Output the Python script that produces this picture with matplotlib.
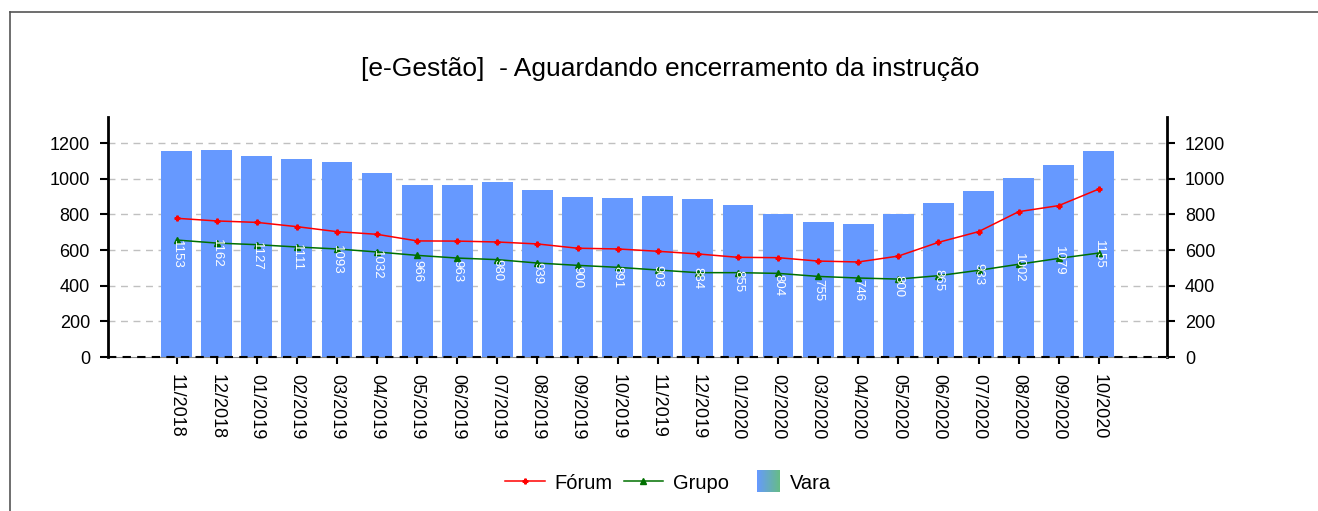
import matplotlib
matplotlib.use("Agg")
import matplotlib.pyplot as plt
import numpy as np
from matplotlib.patches import Rectangle
from matplotlib.legend_handler import HandlerBase
from matplotlib.lines import Line2D

plt.rcParams['font.family'] = ['Liberation Sans', 'DejaVu Sans']

months = ["11/2018", "12/2018", "01/2019", "02/2019", "03/2019", "04/2019", "05/2019",
          "06/2019", "07/2019", "08/2019", "09/2019", "10/2019", "11/2019", "12/2019",
          "01/2020", "02/2020", "03/2020", "04/2020", "05/2020", "06/2020", "07/2020",
          "08/2020", "09/2020", "10/2020"]
vara = [1153, 1162, 1127, 1111, 1093, 1032, 966, 963, 980, 939, 900, 891, 903, 884,
        855, 804, 755, 746, 800, 865, 933, 1002, 1079, 1155]
forum = [778, 763, 755, 731, 703, 688, 651, 650, 645, 634, 610, 606, 593, 578,
         559, 557, 538, 533, 566, 643, 703, 815, 849, 942]
grupo = [656, 639, 630, 617, 606, 589, 570, 555, 546, 527, 514, 503, 488, 473,
         473, 469, 452, 443, 437, 456, 486, 520, 553, 583]
yticks = [0, 200, 400, 600, 800, 1000, 1200]

W, H = 1318, 511
fig = plt.figure(figsize=(W / 100, H / 100), dpi=100)
ax = fig.add_axes([108 / W, 1 - 357 / H, (1167 - 108) / W, (357 - 117) / H])

x = np.arange(len(months))
bar_color = "#6699ff"
ax.bar(x, vara, width=0.77, color=bar_color, zorder=2)
for xi, v in zip(x, vara):
    ax.text(xi, v / 2, str(v), rotation=270, ha="center", va="center",
            color="white", fontsize=9.5, zorder=5)

ax.plot(x, forum, color="#ff0000", lw=1.1, marker="P", ms=3.5, zorder=4)
ax.plot(x, grupo, color="#007000", lw=1.1, marker="^", ms=4, zorder=4)

ax.set_xlim(-1.71, 24.7)
ax.set_ylim(0, 1346)
ax.set_yticks(yticks)
ax.set_xticks(x)
ax.set_xticklabels(months, rotation=270, fontsize=13)
ax.tick_params(axis="y", labelsize=13, right=True, labelright=True,
               direction="out", length=6, width=1.5, pad=7)
ax.tick_params(axis="x", direction="out", length=5, width=1.5, pad=7)
for t in yticks[1:]:
    ax.axhline(t, color="#c0c0c0", lw=1, ls=(0, (5, 4)), zorder=1)
ax.axhline(0, color="black", lw=1.5, ls=(0, (4, 3)), zorder=3, clip_on=False)
for s in ["left", "right"]:
    ax.spines[s].set_linewidth(2)
ax.spines["top"].set_visible(False)
ax.spines["bottom"].set_color("#888888")

fig.text(670 / W, 1 - 69 / H, "[e-Gestão]  - Aguardando encerramento da instrução",
         ha="center", va="center", fontsize=19)

# border
fig.add_artist(Line2D([10 / W, 10 / W], [0, 1 - 12 / H], color="#555555", lw=1.2,
                      transform=fig.transFigure))
fig.add_artist(Line2D([10 / W, 1], [1 - 12 / H, 1 - 12 / H], color="#555555", lw=1.2,
                      transform=fig.transFigure))


class GradHandler(HandlerBase):
    def create_artists(self, legend, orig, xd, yd, width, height, fontsize, trans):
        arts = []
        n = 24
        c1 = np.array(matplotlib.colors.to_rgb("#6699ff"))
        c2 = np.array(matplotlib.colors.to_rgb("#66bb88"))
        w = 16.5
        h = 15.8
        x0 = -xd + width - w
        yc = -yd + height / 2
        for i in range(n):
            c = c1 + (c2 - c1) * i / (n - 1)
            r = Rectangle((x0 + w * i / n, yc - h / 2), w / n + 0.3, h,
                          color=c, transform=trans, lw=0)
            arts.append(r)
        return arts


h1 = Line2D([], [], color="#ff0000", lw=1.1, marker="P", ms=3.5)
h2 = Line2D([], [], color="#007000", lw=1.1, marker="^", ms=4)
h3 = Rectangle((0, 0), 1, 1)
fig.legend([h1, h2, h3], ["Fórum", "Grupo", "Vara"], loc="center",
           bbox_to_anchor=(668 / W, 1 - 483 / H), ncol=3, frameon=False,
           fontsize=14.5, handlelength=1.95, columnspacing=0.55, handletextpad=0.5,
           handler_map={h3: GradHandler()})

fig.savefig("out.png", dpi=100)
